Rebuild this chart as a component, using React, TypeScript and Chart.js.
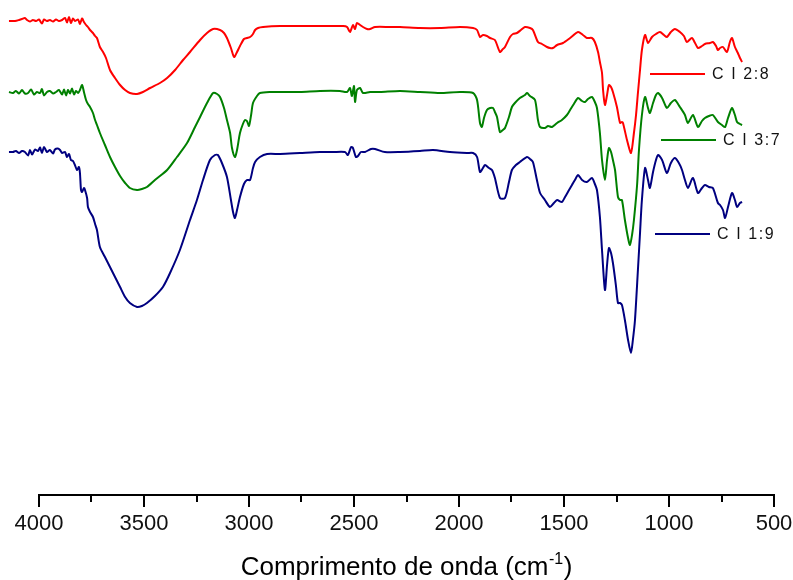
import React, { useEffect, useRef } from 'react';
import { Chart, registerables } from 'chart.js';

Chart.register(...registerables);

// ---------- DATA ----------
const redWavenumber = [
  4143,4114,4095,4081,4067,4057,4043,4029,4014,4000,
  3986,3976,3962,3948,3933,3919,3905,3890,3876,3867,
  3857,3848,3838,3829,3814,3805,3795,3786,3776,3767,
  3757,3743,3733,3724,3710,3695,3681,3662,3638,3614,
  3590,3567,3533,3505,3471,3424,3390,3352,3314,3281,
  3233,3200,3171,3138,3119,3105,3086,3071,3057,3043,
  3024,3010,2995,2981,2971,2957,2933,2852,2757,2662,
  2552,2533,2519,2505,2495,2486,2471,2457,2438,2424,
  2400,2329,2281,2186,2090,1995,1933,1914,1900,1886,
  1867,1852,1829,1805,1791,1781,1757,1743,1724,1705,
  1686,1662,1648,1624,1605,1581,1567,1553,1533,1505,
  1471,1433,1410,1391,1367,1353,1338,1329,1319,1314,
  1305,1295,1286,1276,1267,1248,1233,1224,1219,1200,
  1181,1167,1157,1148,1138,1129,1114,1100,1081,1062,
  1043,1024,1010,991,972,948,929,915,891,876,
  862,843,829,805,791,776,767,757,743,724,
  710,700,686,672,662,652,
];
const redTransmittance = [
  95.8,95.8,96,96.2,96.4,96,95.7,96,95.8,96.1,
  95.3,96.1,95.8,96,95.7,96.1,95.8,96,96.4,95.5,
  96.6,95.4,96.3,95.8,96.1,95.2,96.3,95.6,95,94.6,
  94,93.4,92.8,92.4,90.6,89.6,88.4,86,84.4,83,
  82,81.4,81.2,81.6,82.4,83.4,84.4,86,88,89.6,
  92,93.4,94.2,94,93.4,92.4,90.4,88.6,89.6,90.8,
  92.2,92.4,92.6,93.2,94,94.4,94.6,94.8,94.8,94.8,
  94.8,94.6,93.6,95,94.2,95.4,95,94.6,94.2,94.2,
  94.6,94.6,94.6,94.4,94.4,94.6,94.4,94,92.6,93,
  92.8,92.4,92,89.6,90.2,90.6,92.6,93.2,93.4,94,
  94.6,94.4,94,91.6,91.2,90.6,90.4,90.4,91,91.4,
  92.4,93.6,93,92.4,92.4,91.6,89.6,87.6,85.4,82,
  79,81,83,82.6,81.6,78.6,75.4,75.6,75.4,72,
  69.4,73.4,77,81.4,86,90,93,91.4,92.6,93.2,
  93.6,93,92.6,93.6,94.2,93.6,92.8,91.6,92.4,91.4,
  90.4,90.8,91.2,91.4,91.6,90.8,90,90.4,90.6,89.6,
  91.6,92.4,90.6,89.4,88.4,87.6,
];

const greenWavenumber = [
  4143,4124,4110,4095,4081,4067,4052,4038,4024,4010,
  3995,3986,3976,3962,3948,3933,3919,3905,3890,3881,
  3871,3862,3852,3843,3833,3824,3814,3805,3795,3786,
  3776,3767,3757,3743,3733,3724,3710,3686,3662,3638,
  3614,3590,3567,3533,3510,3486,3448,3390,3343,3295,
  3257,3233,3200,3171,3152,3138,3119,3105,3090,3081,
  3067,3057,3043,3029,3019,3010,3000,2990,2981,2962,
  2948,2900,2838,2757,2662,2567,2533,2519,2510,2500,
  2495,2486,2471,2457,2424,2376,2281,2186,2090,1995,
  1933,1914,1900,1891,1881,1867,1852,1838,1829,1819,
  1805,1791,1781,1762,1748,1734,1710,1686,1676,1662,
  1638,1624,1614,1591,1576,1557,1533,1510,1486,1471,
  1453,1433,1414,1400,1386,1367,1353,1343,1329,1319,
  1305,1295,1286,1276,1267,1257,1243,1233,1224,1210,
  1195,1186,1176,1167,1152,1143,1129,1114,1100,1091,
  1076,1062,1052,1033,1010,991,972,948,924,910,
  886,862,843,829,810,791,767,748,733,719,
  700,686,676,662,652,
];
const greenTransmittance = [
  81.6,81.4,81.8,81.3,82,81.3,81.4,82.1,81.1,81.6,
  81.4,82.2,80.9,81.6,81.8,81.3,81.6,82,81.1,82.1,
  80.9,82,81.3,82.3,81.1,81.8,81.4,82,83,81.6,
  80,79.2,78.6,77.4,76,75,73.4,71,68.6,66.6,
  64.8,63.4,62.4,62,62.2,62.6,64,66,68.6,71.4,
  74.6,76.6,79.4,81.4,81.2,80.6,78.4,76,73.4,70.4,
  68.6,70,73.4,75.2,76,75.8,74.8,77,79.4,80.8,
  81.4,81.6,81.6,81.6,81.8,81.8,81.6,82.4,80.8,82.8,
  79.6,82,82.4,81.4,81.6,81.6,81.8,81.6,81.4,81.6,
  81.4,80,75.4,74.6,76.4,78,78.4,78.4,77.6,76.6,
  73.6,74,74.4,76.6,78.6,79.4,80.4,81,81.4,80.8,
  80,76,74.6,74.4,74.8,74.6,75.4,76,77,78,
  79.2,80.4,79.8,79.6,80.2,80.6,79.6,78.4,73.4,68,
  64,68,70.4,69.6,68,66,60.6,60,60,56,
  52.4,51,53,56,63,70,77,80.6,78.4,77.4,
  79.4,81,81.4,80.4,78.4,79.4,80,78.6,77,75.4,
  77,74.6,75.8,76.4,76.8,77,75.6,75,74.6,76.4,
  78.4,77,75.6,75.2,75,
];

const blueWavenumber = [
  4143,4124,4110,4095,4081,4067,4052,4043,4033,4019,
  4005,3995,3986,3976,3962,3948,3933,3924,3910,3900,
  3890,3876,3867,3857,3848,3838,3829,3819,3810,3805,
  3800,3795,3786,3781,3771,3767,3757,3743,3733,3724,
  3710,3686,3662,3638,3614,3590,3567,3533,3510,3486,
  3448,3410,3376,3329,3281,3248,3219,3186,3162,3148,
  3129,3105,3086,3076,3067,3057,3043,3024,3010,2995,
  2981,2971,2948,2914,2852,2757,2662,2600,2543,2529,
  2514,2505,2491,2481,2467,2448,2419,2400,2353,2281,
  2186,2124,2043,1962,1933,1914,1900,1886,1876,1857,
  1843,1829,1805,1781,1762,1748,1729,1710,1676,1662,
  1648,1629,1614,1591,1567,1548,1533,1510,1495,1476,
  1462,1448,1433,1414,1391,1367,1353,1343,1329,1319,
  1305,1295,1286,1276,1267,1253,1243,1233,1224,1210,
  1195,1181,1172,1162,1148,1138,1129,1114,1100,1091,
  1076,1062,1052,1033,1010,991,972,953,938,924,
  910,886,862,843,829,810,791,767,757,743,
  733,719,700,686,676,662,652,
];
const blueTransmittance = [
  69.6,69.6,69.8,69.4,69.8,69.6,68.9,70,69.1,70.1,
  69.8,70.5,69.4,70.6,69.6,70,69.3,70.1,70.3,70,
  69.4,69.6,68.6,69.2,68,67.8,67,66,66.6,65.4,
  62,61.6,62.4,62,60.4,58.6,57.6,56.6,55.2,54,
  50.6,48.6,46.6,44.6,42.6,40.6,39.4,38.6,38.8,39.4,
  40.8,42.6,45.4,50,56,60,64,68,69,69,
  67.4,64.6,60,57.6,56.4,58,60.6,63.2,64,64,
  66.4,67.6,68.6,69.2,69.2,69.4,69.6,69.6,69.6,69,
  70.6,70.4,68.6,68.8,69.6,69.6,70.2,70.2,69.6,69.6,
  69.8,70,69.6,69.4,69.4,68.6,65.6,66.4,67,66.4,
  66,64.4,60.4,60.4,63.6,66,67,67.6,68.6,68.2,
  67.6,64,61.4,60,58.6,59.4,60,59.6,60.6,62,
  63,64,65,64,63.6,64.4,63.2,62,56.6,50,
  42,47,50.4,49.4,47.4,43,39.4,39.4,39,36,
  32,29.4,32,36,46,53.4,60,66.4,64,62.4,
  65.6,68,69,68,65.4,67.4,68.4,67.4,66,64,
  62.4,64.4,61.4,62.4,63,62.6,62.4,59.4,59,58,
  56.4,58.6,61.4,60,58.6,59.4,59.6,
];

const seriesLabels = ['C I 2:8', 'C I 3:7', 'C I 1:9'];
const seriesColors = ['#ff0000', '#008000', '#000080'];

const xMin = 500;
const xMax = 4000;
const xMajorStep = 500;
const xMinorStep = 250;
const xTitle = 'Comprimento de onda (cm';
const xTitleSup = '-1';
const xTitleEnd = ')';

// ---------- LAYOUT ----------
const W = 793;
const H = 580;
const FONT = '"Liberation Sans", Arial, Helvetica, sans-serif';
// legend: [lineStartX, lineY] in canvas pixels
const legendLayout = [
  [650, 74],
  [661, 140],
  [655, 234],
];
const legendLineLen = 55;
const legendGap = 7;

function toPoints(xs: number[], ys: number[]) {
  return xs.map((x, i) => ({ x, y: ys[i] }));
}

const decorPlugin = {
  id: 'decor',
  afterDraw(chart: any) {
    const ctx = chart.ctx as CanvasRenderingContext2D;
    const xs = chart.scales.x;
    const area = chart.chartArea;
    const y0 = area.bottom;
    ctx.save();
    ctx.strokeStyle = '#000';
    ctx.lineWidth = 2;
    ctx.lineCap = 'butt';
    // axis line
    ctx.beginPath();
    ctx.moveTo(Math.round(xs.getPixelForValue(xMax)) - 1, y0);
    ctx.lineTo(Math.round(xs.getPixelForValue(xMin)) + 1, y0);
    ctx.stroke();
    // ticks
    for (let v = xMin; v <= xMax; v += xMinorStep) {
      const px = Math.round(xs.getPixelForValue(v));
      const len = v % xMajorStep === 0 ? 12 : 7;
      ctx.beginPath();
      ctx.moveTo(px, y0 - 1);
      ctx.lineTo(px, y0 + len);
      ctx.stroke();
    }
    // axis title with superscript
    const mainFont = `26px ${FONT}`;
    const supFont = `16px ${FONT}`;
    ctx.fillStyle = '#000';
    ctx.textBaseline = 'alphabetic';
    ctx.textAlign = 'left';
    ctx.font = mainFont;
    const w1 = ctx.measureText(xTitle).width;
    const w3 = ctx.measureText(xTitleEnd).width;
    ctx.font = supFont;
    const w2 = ctx.measureText(xTitleSup).width;
    const total = w1 + w2 + w3 + 1;
    const cx = (area.left + area.right) / 2;
    let tx = cx - total / 2;
    const base = 575;
    ctx.font = mainFont;
    ctx.fillText(xTitle, tx, base);
    tx += w1 + 0.5;
    ctx.font = supFont;
    ctx.fillText(xTitleSup, tx, base - 11);
    tx += w2 + 0.5;
    ctx.font = mainFont;
    ctx.fillText(xTitleEnd, tx, base);
    // legend
    ctx.font = `16px ${FONT}`;
    (ctx as any).letterSpacing = '1.6px';
    ctx.textBaseline = 'middle';
    legendLayout.forEach(([lx, ly], i) => {
      ctx.strokeStyle = seriesColors[i];
      ctx.lineWidth = 2;
      ctx.beginPath();
      ctx.moveTo(lx, ly);
      ctx.lineTo(lx + legendLineLen, ly);
      ctx.stroke();
      ctx.fillStyle = '#111';
      ctx.fillText(seriesLabels[i], lx + legendLineLen + legendGap, ly + 1);
    });
    ctx.restore();
  },
};

export default function App() {
  const ref = useRef<HTMLCanvasElement | null>(null);
  useEffect(() => {
    if (!ref.current) return;
    const data = [
      toPoints(redWavenumber, redTransmittance),
      toPoints(greenWavenumber, greenTransmittance),
      toPoints(blueWavenumber, blueTransmittance),
    ];
    const chart = new Chart(ref.current, {
      type: 'line',
      data: {
        datasets: data.map((d, i) => ({
          label: seriesLabels[i],
          data: d,
          borderColor: seriesColors[i],
          backgroundColor: seriesColors[i],
          borderWidth: 2,
          pointRadius: 0,
          tension: 0.25,
          fill: false,
          clip: false as any,
        })),
      },
      options: {
        animation: false,
        responsive: false,
        devicePixelRatio: 1,
        layout: { padding: { left: 39, right: 19, top: 0, bottom: 0 } },
        plugins: { legend: { display: false }, tooltip: { enabled: false } },
        scales: {
          x: {
            type: 'linear',
            reverse: true,
            min: xMin,
            max: xMax,
            border: { display: false },
            grid: { display: false, drawTicks: true, tickLength: 12 },
            ticks: {
              stepSize: xMajorStep,
              autoSkip: false,
              maxRotation: 0,
              padding: 4,
              color: '#111',
              font: { family: FONT, size: 22 },
              callback: (v: any) => String(v),
            },
            afterFit: (scale: any) => {
              scale.height = 85;
              scale.paddingLeft = 0;
              scale.paddingRight = 0;
            },
          },
          y: { display: false, min: 1, max: 100 },
        },
      },
      plugins: [decorPlugin],
    });
    return () => chart.destroy();
  }, []);
  return (
    <div style={{ position: 'fixed', left: 0, top: 0, width: W, height: H, background: '#fff' }}>
      <canvas ref={ref} width={W} height={H} style={{ width: W, height: H, display: 'block' }} />
    </div>
  );
}
